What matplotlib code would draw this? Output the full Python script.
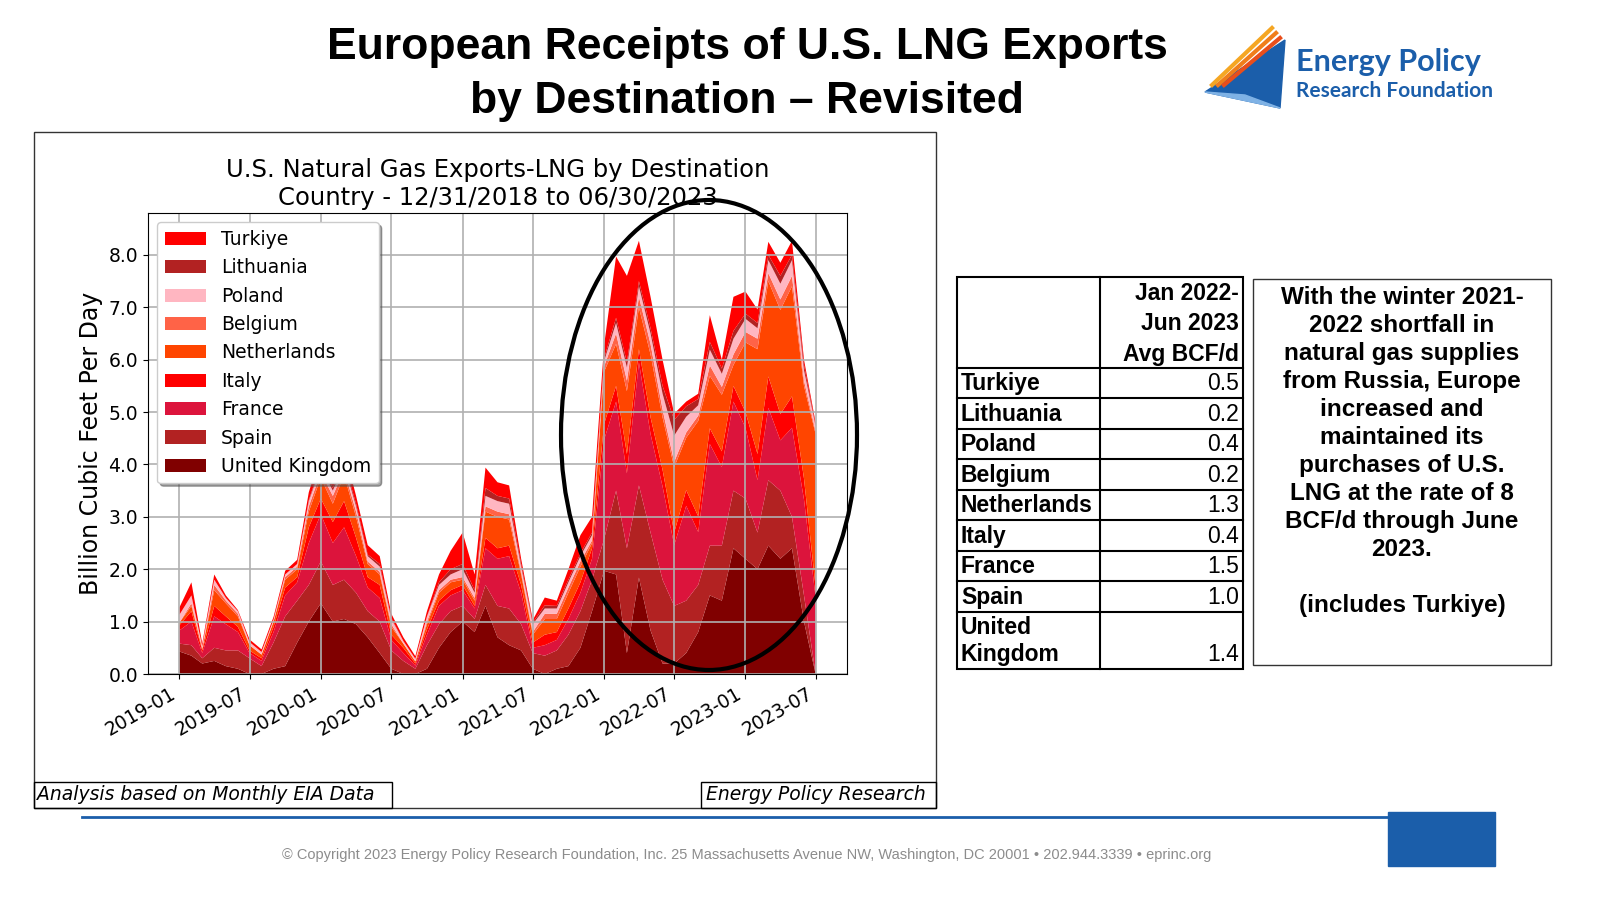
import matplotlib
matplotlib.use("Agg")
import matplotlib.pyplot as plt
import matplotlib.dates as mdates
from matplotlib.patches import Ellipse, Rectangle, Polygon
import numpy as np
import pandas as pd

months = pd.date_range("2019-01-01", "2023-07-01", freq="MS")

uk = [.43, .35, .2, .25, .15, .1, 0, 0, .1, .15, .6, 1.0, 1.35, 1.0, 1.05, .95, .7, .4, .1, 0,
      0, .1, .5, .8, 1.0, .8, 1.3, .7, .55, .45, .1, 0, .1, .15, .5, 1.2, 1.97, 1.9, .4, 1.84,
      .83, .2, .2, .4, .8, 1.5, 1.4, 2.4, 2.2, 2.0, 2.45, 2.2, 2.4, 1.0, 0]
spain = [.15, .2, .1, .25, .3, .35, .3, .15, .5, .95, .8, .7, .8, .7, .75, .6, .5, .6, .35, .25,
         .1, .45, .45, .4, .3, .25, .4, .6, .7, .5, .3, .35, .35, .6, .7, .6, .6, 1.6, 2.0, 1.76,
         1.87, 1.6, 1.1, 1.0, .9, .95, 1.05, 1.1, 1.15, .7, 1.25, 1.3, .6, .5, 0]
france = [.25, .45, .1, .6, .5, .35, .1, .1, .2, .4, .35, .8, .9, .8, 1.0, .7, .45, .45, .2, .15,
          .06, .2, .35, .3, .3, .2, .7, .9, 1.0, .6, .1, .2, .2, .3, .35, .4, 1.9, 1.7, 1.43, 2.35,
          1.88, 1.78, 1.16, 1.81, 1.01, 1.94, 1.5, 1.7, 1.35, 1.0, 1.38, .96, 1.7, 1.83, 1.46]
italy = [.1, .2, .05, .2, .15, .1, .05, .05, .1, .15, .1, .3, .3, .4, .5, .35, .2, .25, .1, .1,
         .04, .1, .1, .1, .1, .05, .2, .2, .2, .15, .1, .2, .15, .2, .2, .2, .3, .3, .37, .25,
         .32, .32, .24, .3, .3, .3, .3, .3, .3, .5, .6, .5, .6, .4, .2]
netherlands = [.05, .1, .03, .3, .25, .2, .1, .07, .1, .15, .15, .3, .4, .35, .5, .4, .25, .2, .15, .08,
               .04, .1, .15, .15, .1, .1, .5, .6, .5, .2, .15, .3, .25, .3, .3, .1, 1.0, .8, 1.2, .8,
               1.2, 1.0, 1.25, 1.0, 1.82, 1.0, 1.08, .4, 1.33, 2.0, 1.82, 1.99, 2.1, 1.77, 2.92]
belgium = [0, .05, 0, .1, .05, .05, 0, 0, 0, .05, .05, .1, .1, .15, .1, .1, .05, .05, .05, 0,
           0, .05, .05, .05, .05, .05, .1, .1, .1, .05, .05, .1, .1, .1, .1, .05, .1, .2, .2, .2,
           .2, .15, .1, .1, .1, .2, .15, .2, .2, .2, .15, .2, .2, .1, .05]
poland = [.15, .15, .05, .1, .05, .05, .06, .05, .04, .05, .05, .1, .1, .1, .1, .1, .1, .1, .1, .05,
          .05, .1, .1, .1, .15, .1, .2, .2, .2, .1, .15, .1, .1, .1, .1, .1, .1, .2, .25, .2,
          .2, .3, .5, .3, .2, .3, .25, .3, .25, .2, .25, .3, .3, .2, .1]
lithuania = [0, 0, 0, 0, 0, 0, 0, 0, 0, 0, 0, .02, .05, .05, .05, .05, .03, .05, .02, 0,
             0, 0, .05, .1, .1, .05, .15, .1, .1, .05, .03, .06, .05, .05, .05, .05, .05, .1, .1, .1,
             .1, .15, .3, .2, .12, .15, .1, .15, .1, .1, .1, .15, .1, .1, .02]
turkiye = [.14, .25, .05, .1, .05, .02, .05, .05, .05, .07, .08, .15, .2, .15, .25, .15, .18, .15, .08, .07,
           .05, .1, .15, .35, .6, .3, .39, .26, .25, .1, .05, .15, .1, .2, .35, .3, .25, 1.17, 1.65, .77,
           .6, .5, .12, .09, .1, .51, .17, .65, .42, .26, .25, .25, .27, .1, .05]

countries = ["United Kingdom", "Spain", "France", "Italy", "Netherlands",
             "Belgium", "Poland", "Lithuania", "Turkiye"]
colors = ["#800000", "#b22222", "#dc143c", "#ff0000", "#ff4500",
          "#ff6347", "#ffb6c1", "#b22222", "#ff0000"]
series = [uk, spain, france, italy, netherlands, belgium, poland, lithuania, turkiye]

table_rows = ["Turkiye", "Lithuania", "Poland", "Belgium", "Netherlands",
              "Italy", "France", "Spain", "United\nKingdom"]
table_vals = ["0.5", "0.2", "0.4", "0.2", "1.3", "0.4", "1.5", "1.0", "1.4"]

BLUE = "#1b5eaa"
SANS = "Liberation Sans"

fig = plt.figure(figsize=(16, 9), dpi=100)

# overlay in pixel coordinates for slide decorations
ov = fig.add_axes([0, 0, 1, 1])
ov.set_xlim(0, 1600)
ov.set_ylim(900, 0)
ov.axis("off")

ov.text(747, 47, "European Receipts of U.S. LNG Exports", ha="center", va="center",
        fontsize=32, fontweight="bold", family=SANS)
ov.text(747, 101, "by Destination \u2013 Revisited", ha="center", va="center",
        fontsize=32, fontweight="bold", family=SANS)

# logo
ov.add_patch(Polygon([[1205, 92], [1285, 40], [1280, 108]], closed=True, color=BLUE))
ov.add_patch(Polygon([[1205, 92], [1280, 108], [1245, 95]], closed=True, color="#7fb2e5"))
for i, c in enumerate(["#f5a623", "#f07d1a", "#e94e1b"]):
    ov.plot([1212 + i * 6, 1272 + i * 4], [85, 28 + i * 5], color=c, lw=3)
ov.text(1296, 62, "Energy Policy", fontsize=22, fontweight="bold", color=BLUE,
        va="center", family="Lato")
ov.text(1296, 91, "Research Foundation", fontsize=15, fontweight="bold", color=BLUE,
        va="center", family="Lato")

# chart frame
ov.add_patch(Rectangle((34, 132), 902, 676, fill=False, lw=1, ec="#333333"))
ov.add_patch(Rectangle((34, 782), 358, 26, fill=False, lw=1, ec="black"))
ov.text(37, 795, "Analysis based on Monthly EIA Data", fontsize=13.5, style="italic",
        va="center")
ov.add_patch(Rectangle((701, 782), 235, 26, fill=False, lw=1, ec="black"))
ov.text(706, 795, "Energy Policy Research", fontsize=13.5, style="italic", va="center")

# table
tx0, tx1, tx2 = 957, 1100, 1243
edges = [277, 368, 398, 429, 459, 490, 520, 551, 581, 612, 669]
ov.add_patch(Rectangle((tx0, 277), tx2 - tx0, 669 - 277, fill=False, lw=1.5, ec="black"))
ov.plot([tx1, tx1], [277, 669], color="black", lw=1.5)
for e in edges[1:-1]:
    ov.plot([tx0, tx2], [e, e], color="black", lw=1.5)
for t, y in zip(["Jan 2022-", "Jun 2023", "Avg BCF/d"], [293, 323, 354]):
    ov.text(tx2 - 4, y, t, ha="right", va="center", fontsize=16.5, fontweight="bold", family=SANS)
for i, (name, val) in enumerate(zip(table_rows, table_vals)):
    top, bot = edges[i + 1], edges[i + 2]
    ov.text(tx0 + 4, bot - 3, name, ha="left", va="bottom", fontsize=16.5, fontweight="bold",
            family=SANS, linespacing=1.2)
    ov.text(tx2 - 4, bot - 3, val, ha="right", va="bottom", fontsize=16.5, family=SANS)

# commentary box
ov.add_patch(Rectangle((1253, 279), 298, 386, fill=False, lw=1, ec="#333333"))
ov.text(1402, 286, "With the winter 2021-\n2022 shortfall in\nnatural gas supplies\n"
        "from Russia, Europe\nincreased and\nmaintained its\npurchases of U.S.\n"
        "LNG at the rate of 8\nBCF/d through June\n2023.\n\n(includes Turkiye)",
        ha="center", va="top", fontsize=17.5, fontweight="bold", family=SANS, linespacing=1.28)

# footer
ov.plot([82, 1390], [817, 817], color=BLUE, lw=2)
ov.add_patch(Rectangle((1388, 812), 107, 54, color=BLUE))
ov.text(747, 855, "\u00a9 Copyright 2023 Energy Policy Research Foundation, Inc. 25 Massachusetts "
        "Avenue NW, Washington, DC 20001 \u2022 202.944.3339 \u2022 eprinc.org",
        ha="center", va="center", fontsize=10.5, color="#8c8c8c", family=SANS)

# main chart
ax = fig.add_axes([148 / 1600, 1 - 674 / 900, 699 / 1600, 461 / 900])
polys = ax.stackplot(months, *series, colors=colors, labels=countries)
ax.set_ylim(0, 8.8)
ax.set_xlim(mdates.date2num(pd.Timestamp("2018-10-12")), mdates.date2num(pd.Timestamp("2023-09-20")))
ax.set_yticks(np.arange(0, 9, 1.0))
ax.set_yticklabels([f"{v:.1f}" for v in np.arange(0, 9, 1.0)])
ax.xaxis.set_major_locator(mdates.MonthLocator(bymonth=[1, 7]))
ax.xaxis.set_major_formatter(mdates.DateFormatter("%Y-%m"))
ax.tick_params(labelsize=13.5)
plt.setp(ax.get_xticklabels(), rotation=30, ha="right")
ax.grid(True, color="#b0b0b0", lw=1.2)
for p in polys:
    p.set_zorder(1)
ax.set_ylabel("Billion Cubic Feet Per Day", fontsize=17)
ax.set_title("U.S. Natural Gas Exports-LNG by Destination\nCountry - 12/31/2018 to 06/30/2023",
             fontsize=17.5, pad=6)
handles, labels = ax.get_legend_handles_labels()
ax.legend(handles[::-1], labels[::-1], loc="upper left", fontsize=13.5, shadow=True,
          framealpha=1, handlelength=2.2)

ov.add_patch(Ellipse((709, 435), 296, 470, fill=False, lw=3, ec="black", zorder=10))
ov.set_zorder(5)
ov.patch.set_alpha(0)

fig.savefig("out.png", dpi=100)
